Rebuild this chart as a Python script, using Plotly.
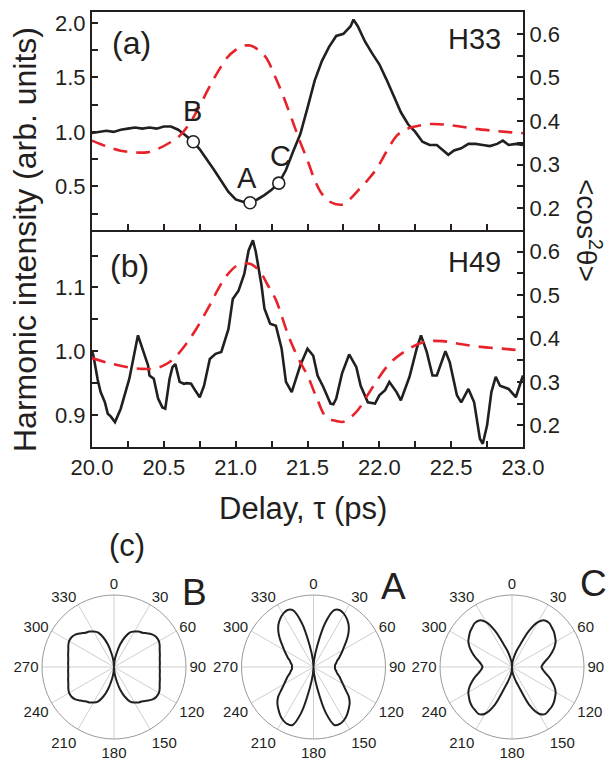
import plotly.graph_objects as go

# ---------------- data ----------------
# Panel (a) H33 harmonic intensity
a_delay = [20.00, 20.05, 20.10, 20.15, 20.20, 20.25, 20.30, 20.35, 20.40, 20.45, 20.50, 20.55,
           20.60, 20.65, 20.705, 20.75, 20.80, 20.85, 20.90, 20.95, 21.00, 21.05, 21.10, 21.15,
           21.20, 21.25, 21.30, 21.35, 21.40, 21.45, 21.50, 21.55, 21.60, 21.65, 21.70, 21.75,
           21.80, 21.82, 21.85, 21.90, 21.95, 22.00, 22.05, 22.10, 22.15, 22.20, 22.25, 22.30,
           22.35, 22.40, 22.45, 22.48, 22.52, 22.57, 22.62, 22.67, 22.72, 22.77, 22.82, 22.86,
           22.90, 22.95, 23.00]
a_intensity = [0.99, 1.00, 1.01, 1.00, 1.02, 1.03, 1.04, 1.03, 1.04, 1.03, 1.05, 1.05,
               1.02, 0.97, 0.91, 0.84, 0.75, 0.65, 0.55, 0.45, 0.38, 0.36, 0.35, 0.38,
               0.42, 0.47, 0.53, 0.65, 0.82, 0.98, 1.22, 1.47, 1.65, 1.78, 1.88, 1.90,
               1.97, 2.03, 1.97, 1.83, 1.72, 1.62, 1.48, 1.33, 1.18, 1.07, 1.00, 0.91,
               0.88, 0.88, 0.82, 0.79, 0.83, 0.85, 0.89, 0.89, 0.88, 0.87, 0.89, 0.92,
               0.88, 0.89, 0.88]

# Panel (a) alignment <cos^2 theta>
a_cos_delay = [20.00, 20.10, 20.20, 20.30, 20.38, 20.45, 20.55, 20.61, 20.68, 20.75, 20.82, 20.88,
               20.94, 21.00, 21.05, 21.10, 21.15, 21.21, 21.27, 21.33, 21.39, 21.45, 21.50, 21.55,
               21.60, 21.65, 21.70, 21.75, 21.80, 21.85, 21.92, 21.98, 22.05, 22.12, 22.18, 22.23,
               22.30, 22.35, 22.45, 22.55, 22.67, 22.78, 22.88, 23.00]
a_cos2 = [0.355, 0.342, 0.332, 0.328, 0.328, 0.335, 0.352, 0.366, 0.395, 0.435, 0.480, 0.515,
          0.545, 0.563, 0.572, 0.573, 0.565, 0.546, 0.505, 0.458, 0.405, 0.351, 0.310, 0.265,
          0.233, 0.216, 0.209, 0.209, 0.222, 0.240, 0.265, 0.290, 0.330, 0.366, 0.380, 0.386,
          0.391, 0.393, 0.392, 0.388, 0.382, 0.378, 0.375, 0.372]

# Marked points A, B, C
pt_labels = ["B", "A", "C"]
pt_delay = [20.705, 21.10, 21.30]
pt_intensity = [0.91, 0.35, 0.53]
pt_label_delay = [20.70, 21.08, 21.31]
pt_label_value = [1.19, 0.58, 0.78]

# Panel (b) H49 harmonic intensity
b_delay = [20.00, 20.01, 20.04, 20.06, 20.09, 20.11, 20.13, 20.16, 20.20, 20.26, 20.32, 20.35,
           20.37, 20.39, 20.40, 20.43, 20.46, 20.49, 20.51, 20.54, 20.56, 20.58, 20.61, 20.64,
           20.66, 20.69, 20.72, 20.75, 20.78, 20.82, 20.86, 20.90, 20.95, 20.98, 21.02, 21.06,
           21.09, 21.12, 21.14, 21.18, 21.20, 21.24, 21.28, 21.32, 21.35, 21.39, 21.45, 21.50,
           21.54, 21.57, 21.61, 21.66, 21.68, 21.70, 21.74, 21.79, 21.84, 21.87, 21.92, 21.97,
           22.00, 22.04, 22.07, 22.12, 22.15, 22.21, 22.26, 22.29, 22.33, 22.37, 22.40, 22.46,
           22.49, 22.54, 22.57, 22.62, 22.66, 22.70, 22.72, 22.75, 22.78, 22.81, 22.84, 22.90,
           22.95, 23.00]
b_intensity = [1.000, 0.993, 0.955, 0.936, 0.920, 0.902, 0.898, 0.889, 0.910, 0.957, 1.025, 1.005,
               0.991, 0.978, 0.962, 0.957, 0.926, 0.912, 0.910, 0.957, 0.975, 0.980, 0.952, 0.949,
               0.950, 0.949, 0.938, 0.928, 0.946, 0.988, 0.996, 0.999, 1.035, 1.082, 1.095, 1.121,
               1.158, 1.174, 1.156, 1.103, 1.067, 1.043, 1.040, 1.004, 0.952, 0.936, 0.978, 1.004,
               0.993, 0.962, 0.944, 0.918, 0.917, 0.926, 0.965, 0.995, 0.975, 0.946, 0.920, 0.918,
               0.931, 0.939, 0.952, 0.936, 0.923, 0.960, 1.004, 1.025, 0.999, 0.962, 0.962, 1.000,
               0.983, 0.931, 0.920, 0.941, 0.920, 0.863, 0.855, 0.884, 0.936, 0.960, 0.946, 0.941,
               0.928, 0.962]

# Panel (b) alignment <cos^2 theta>
b_cos_delay = [20.00, 20.10, 20.26, 20.35, 20.44, 20.50, 20.57, 20.65, 20.72, 20.82, 20.88, 20.94,
               21.02, 21.10, 21.17, 21.22, 21.28, 21.37, 21.45, 21.50, 21.57, 21.63, 21.70, 21.75,
               21.84, 21.94, 22.07, 22.19, 22.31, 22.44, 22.55, 22.67, 22.80, 22.91, 23.00]
b_cos2 = [0.355, 0.345, 0.333, 0.330, 0.331, 0.338, 0.354, 0.385, 0.419, 0.477, 0.515, 0.546,
          0.570, 0.572, 0.554, 0.525, 0.489, 0.404, 0.345, 0.315, 0.258, 0.219, 0.210, 0.208,
          0.231, 0.281, 0.342, 0.373, 0.392, 0.394, 0.388, 0.382, 0.378, 0.375, 0.372]

# Panel (c) angular distributions (angle in degrees, radius relative to outer circle)
polar_theta = [0, 5, 10, 15, 20, 25, 30, 35, 40, 45, 50, 55, 60, 65, 70, 75, 80, 85, 90,
               95, 100, 105, 110, 115, 120, 125, 130, 135, 140, 145, 150, 155, 160, 165, 170, 175, 180,
               185, 190, 195, 200, 205, 210, 215, 220, 225, 230, 235, 240, 245, 250, 255, 260, 265, 270,
               275, 280, 285, 290, 295, 300, 305, 310, 315, 320, 325, 330, 335, 340, 345, 350, 355, 360]
polar_B = [0.00, 0.08, 0.18, 0.32, 0.44, 0.53, 0.57, 0.60, 0.62, 0.66, 0.70, 0.72, 0.72, 0.70, 0.675, 0.66, 0.645, 0.64, 0.635,
           0.64, 0.645, 0.66, 0.675, 0.70, 0.72, 0.72, 0.70, 0.66, 0.62, 0.60, 0.57, 0.53, 0.44, 0.32, 0.18, 0.08, 0.00,
           0.08, 0.18, 0.32, 0.44, 0.53, 0.57, 0.60, 0.62, 0.66, 0.70, 0.72, 0.72, 0.70, 0.675, 0.66, 0.645, 0.64, 0.635,
           0.64, 0.645, 0.66, 0.675, 0.70, 0.72, 0.72, 0.70, 0.66, 0.62, 0.60, 0.57, 0.53, 0.44, 0.32, 0.18, 0.08, 0.00]
polar_A = [0.00, 0.10, 0.30, 0.64, 0.84, 0.87, 0.85, 0.81, 0.76, 0.69, 0.61, 0.53, 0.47, 0.42, 0.38, 0.34, 0.32, 0.30, 0.30,
           0.30, 0.32, 0.34, 0.38, 0.42, 0.47, 0.54, 0.64, 0.71, 0.76, 0.81, 0.85, 0.87, 0.86, 0.66, 0.30, 0.10, 0.00,
           0.10, 0.30, 0.66, 0.86, 0.87, 0.85, 0.81, 0.76, 0.71, 0.64, 0.54, 0.47, 0.42, 0.38, 0.34, 0.32, 0.30, 0.30,
           0.30, 0.32, 0.34, 0.38, 0.42, 0.47, 0.53, 0.61, 0.69, 0.76, 0.81, 0.85, 0.87, 0.84, 0.64, 0.30, 0.10, 0.00]
polar_C = [0.00, 0.06, 0.12, 0.22, 0.33, 0.55, 0.72, 0.79, 0.80, 0.78, 0.76, 0.73, 0.70, 0.65, 0.59, 0.53, 0.47, 0.43, 0.41,
           0.43, 0.47, 0.53, 0.59, 0.65, 0.70, 0.73, 0.76, 0.78, 0.79, 0.80, 0.75, 0.60, 0.32, 0.20, 0.12, 0.06, 0.00,
           0.06, 0.12, 0.20, 0.32, 0.60, 0.75, 0.80, 0.79, 0.78, 0.76, 0.73, 0.70, 0.65, 0.59, 0.53, 0.47, 0.43, 0.41,
           0.43, 0.47, 0.53, 0.59, 0.65, 0.70, 0.73, 0.76, 0.78, 0.80, 0.79, 0.72, 0.55, 0.33, 0.22, 0.12, 0.06, 0.00]
polar_names = ["B", "A", "C"]
polar_ticks = [0, 30, 60, 90, 120, 150, 180, 210, 240, 270, 300, 330]

# ---------------- figure ----------------
W, H = 611, 760
FONT = "Arial, 'Liberation Sans', Helvetica, sans-serif"
INK = "#231f20"
RED = "#e8222b"

def px(x):
    return x / W

def py(y):
    return 1 - y / H

fig = go.Figure()

black_line = dict(color=INK, width=2.6)
red_line = dict(color=RED, width=2.6, dash="14px,9px")

fig.add_trace(go.Scatter(x=a_cos_delay, y=a_cos2, mode="lines", line=red_line,
                         line_shape="spline", xaxis="x", yaxis="y2"))
fig.add_trace(go.Scatter(x=a_delay, y=a_intensity, mode="lines", line=black_line,
                         xaxis="x", yaxis="y"))
fig.add_trace(go.Scatter(x=pt_delay, y=pt_intensity, mode="markers",
                         marker=dict(size=12, color="white", line=dict(color=INK, width=1.6)),
                         xaxis="x", yaxis="y"))
fig.add_trace(go.Scatter(x=b_cos_delay, y=b_cos2, mode="lines", line=red_line,
                         line_shape="spline", xaxis="x2", yaxis="y4"))
fig.add_trace(go.Scatter(x=b_delay, y=b_intensity, mode="lines", line=black_line,
                         xaxis="x2", yaxis="y3"))

polar_data = [polar_B, polar_A, polar_C]
for i, r in enumerate(polar_data):
    fig.add_trace(go.Scatterpolar(r=r, theta=polar_theta, mode="lines",
                                  line=dict(color=INK, width=2), line_shape="spline",
                                  subplot="polar" if i == 0 else f"polar{i+1}"))

x_dom = [px(92), px(523)]
tickfont = dict(family=FONT, size=22, color=INK)
minor_x = dict(dtick=0.25, ticks="inside", ticklen=6, tickwidth=1.5, tickcolor=INK)

common_x = dict(range=[20, 23], dtick=0.5, tick0=20, ticks="inside", ticklen=6, tickwidth=1.5,
                showline=True, linecolor=INK, linewidth=2, showgrid=False, zeroline=False,
                tickcolor=INK, tickfont=tickfont, tickformat=".1f", automargin=False,
                minor=minor_x)
common_y = dict(ticks="inside", ticklen=6, tickwidth=1.5, showline=True, linecolor=INK,
                linewidth=2, showgrid=False, zeroline=False, tickcolor=INK, tickfont=tickfont,
                tickformat=".1f", automargin=False)

def minor(d):
    return dict(dtick=d, ticks="inside", ticklen=6, tickwidth=1.5, tickcolor=INK)

fig.update_layout(
    template="none",
    width=W, height=H, margin=dict(l=0, r=0, t=0, b=0, pad=0), autosize=False,
    paper_bgcolor="white", plot_bgcolor="white", showlegend=False,
    font=dict(family=FONT, color=INK),
    xaxis=dict(common_x, domain=x_dom, anchor="y", showticklabels=False, mirror=True),
    yaxis=dict(common_y, domain=[py(230), py(12)], anchor="x", range=[0.1, 2.1], dtick=0.5,
               minor=minor(0.25)),
    yaxis2=dict(common_y, overlaying="y", side="right", anchor="x", range=[0.15, 0.65], dtick=0.1,
                minor=minor(0.05)),
    xaxis2=dict(common_x, domain=x_dom, anchor="y3"),
    yaxis3=dict(common_y, domain=[py(447), py(230)], anchor="x2", range=[0.85, 1.19], dtick=0.1,
                minor=minor(0.05)),
    yaxis4=dict(common_y, overlaying="y3", side="right", anchor="x2", range=[0.15, 0.65], dtick=0.1,
                minor=minor(0.05)),
)

centers = [114, 313.5, 512]
CY = 667
R = 72
for i, cx in enumerate(centers):
    key = "polar" if i == 0 else f"polar{i+1}"
    fig.layout[key] = dict(
        domain=dict(x=[px(cx - R), px(cx + R)], y=[py(CY + R), py(CY - R)]),
        bgcolor="white",
        radialaxis=dict(range=[0, 1], visible=True, showticklabels=False, ticks="",
                        showgrid=False, showline=False),
        angularaxis=dict(rotation=90, direction="clockwise", tickmode="array",
                         tickvals=polar_ticks, ticktext=[str(t) for t in polar_ticks],
                         ticks="", ticklen=0, showline=True, linecolor="#9a9a9a", linewidth=1,
                         gridcolor="#cfcfcf", gridwidth=1,
                         tickfont=dict(family=FONT, size=15, color=INK)),
    )

ann = []
def text(x, y, s, size, **kw):
    ann.append(dict(x=px(x), y=py(y), xref="paper", yref="paper", text=s, showarrow=False,
                    xanchor="center", yanchor="middle",
                    font=dict(family=FONT, size=size, color=INK), **kw))

text(131, 43, "(a)", 32)
text(474, 39, "H33", 29)
text(129, 266, "(b)", 32)
text(474, 262, "H49", 29)
text(303, 508, "Delay, \u03c4 (ps)", 31)
text(25, 240, "Harmonic intensity (arb. units)", 32, textangle=-90)
text(589, 230, "&lt;cos<sup>2</sup>\u03b8&gt;", 28, textangle=90)
text(127, 545, "(c)", 31)
text(194, 592, "B", 37)
text(393, 586, "A", 37)
text(593, 583, "C", 37)

for lab, xd, yv in zip(pt_labels, pt_label_delay, pt_label_value):
    ann.append(dict(x=xd, y=yv, xref="x", yref="y", text=lab, showarrow=False,
                    xanchor="center", yanchor="middle",
                    font=dict(family=FONT, size=29, color=INK)))

fig.update_layout(annotations=ann)

fig.write_html("out.html", config={"displayModeBar": False},
               post_script="document.body.style.margin='0px';document.body.style.overflow='hidden';")
